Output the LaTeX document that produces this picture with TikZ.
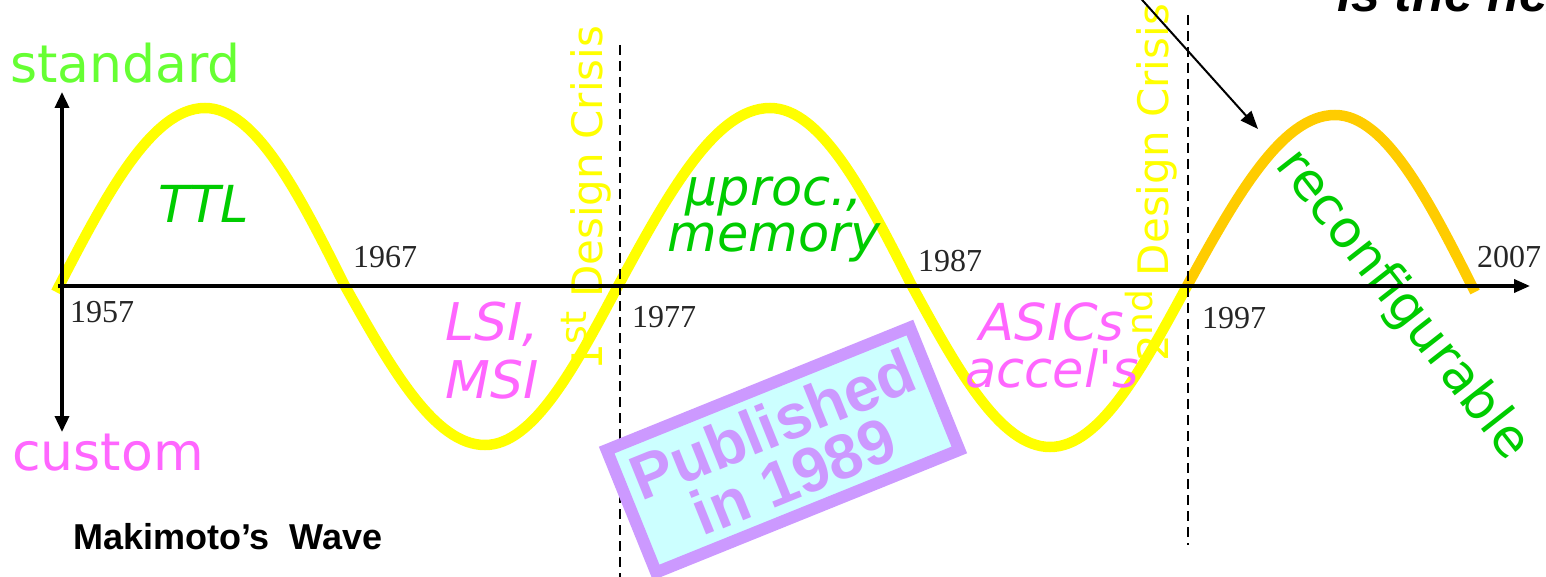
\documentclass[tikz,border=0pt]{standalone}
\usepackage{fontspec}
\setmainfont{Liberation Serif}
\newfontfamily\comicfont{DejaVu Sans}
\newfontfamily\arialfont{Liberation Sans}
\usetikzlibrary{arrows.meta, positioning}

\definecolor{waveyellow}{HTML}{FFFF00}
\definecolor{waveorange}{HTML}{FFCC00}
\definecolor{stdgreen}{HTML}{66FF33}
\definecolor{techgreen}{HTML}{00CC00}
\definecolor{techpink}{HTML}{FF66FF}
\definecolor{stamppurple}{HTML}{CC99FF}
\definecolor{stampcyan}{HTML}{CCFFFF}

\newcommand{\ordsup}[1]{\raisebox{0.36em}{\fontsize{36}{36}\selectfont #1}}

\begin{document}
\begin{tikzpicture}[
    x=1pt, y=-1pt,
    year/.style={font=\fontsize{32}{32}\selectfont, text=black!85, inner sep=0pt, anchor=base west},
    era/.style={font=\comicfont\itshape\fontsize{51}{46}\selectfont, inner sep=0pt, align=center},
    side/.style={font=\comicfont\fontsize{52}{52}\selectfont, inner sep=0pt, anchor=base west},
    crisis/.style={font=\comicfont\fontsize{42}{42}\selectfont, text=waveyellow, rotate=90, inner sep=0pt, anchor=base west},
    wave/.style={line width=10.5pt},
    axis/.style={line width=3.5pt, {Triangle[length=16pt, width=14pt]}-{Triangle[length=16pt, width=14pt]}},
    divider/.style={line width=2pt, dash pattern=on 10pt off 6pt},
    pointer/.style={line width=2pt, -{Triangle[length=18pt, width=14pt]}},
    stamp/.style={draw=stamppurple, fill=stampcyan, line width=12pt, minimum width=327pt, minimum height=132pt, inner sep=0pt, align=center, text=stamppurple, font=\arialfont\bfseries\fontsize{63}{56}\selectfont}
]
\useasboundingbox (0,0) rectangle (1546,577);
\clip (0,0) rectangle (1546,577);

% Points de l'axe
\coordinate (ytop) at (62,92);
\coordinate (ybot) at (62,432);
\coordinate (xstart) at (58,286);
\coordinate (xend) at (1530,286);
\coordinate (cut1) at (1187,286);

% Vague
\draw[wave, waveyellow] (56,292) sin (205,108) cos (345,286) sin (485,445) cos (618,286)
    sin (770,108) cos (912,286) sin (1050,447) cos (cut1);
\draw[wave, waveorange] (cut1) sin (1335,115) cos (1475,292);

% Etiquettes des périodes
\node[era, text=techgreen, anchor=base west] (ttl) at (158,223) {TTL};
\node[era, text=techgreen] (uproc) at (774,220) {µproc.,\\memory};
\node[era, text=techpink, font=\comicfont\itshape\fontsize{52}{58}\selectfont] (lsi) at (492,351) {LSI,\\MSI};
\node[era, text=techpink, font=\comicfont\itshape\fontsize{51}{47}\selectfont] (asic) at (1052,345) {ASICs\\accel's};
\node[side, text=techgreen, rotate=-52, anchor=center] (reconf) at (1402,305) {reconfigurable};

% Crises
\node[crisis] (crisis1) at (602,371) {1\ordsup{st} Design Crisis};
\node[crisis] (crisis2) at (1168,362) {2\ordsup{nd} Design Crisis};

% Axes
\draw[axis] (ytop) -- (ybot);
\draw[line width=3.5pt, -{Triangle[length=16pt, width=13pt]}] (xstart) -- (xend);
\node[side, text=stdgreen] (standard) at (10,83) {standard};
\node[side, text=techpink] (custom) at (12,470) {custom};

% Années
\node[year] (y1957) at (70,322) {1957};
\node[year] (y1967) at (353,268) {1967};
\node[year] (y1977) at (632,327) {1977};
\node[year] (y1987) at (918,272) {1987};
\node[year] (y1997) at (1202,328) {1997};
\node[year] (y2007) at (1477,267) {2007};

% Séparations
\coordinate (d1top) at (620,45);
\coordinate (d1bot) at (620,577);
\coordinate (d2top) at (1188,15);
\coordinate (d2bot) at (1188,545);
\draw[divider] (d1top) -- (d1bot);
\draw[divider] (d2top) -- (d2bot);

% Flèche du haut
\node[anchor=base west, inner sep=0pt, font=\arialfont\bfseries\itshape\fontsize{52}{52}\selectfont] (nextwave) at (1337,12) {is the next};
\coordinate (ptrstart) at (1135,-8);
\coordinate (ptrend) at (1258,129);
\draw[pointer] (ptrstart) -- (ptrend);

% Titre et tampon
\node[anchor=base west, inner sep=0pt, font=\arialfont\bfseries\fontsize{36}{36}\selectfont] (title) at (73,549) {Makimoto’s~~Wave};
\node[stamp, rotate=22] (stamp) at (783,450) {Published\\in 1989};
\end{tikzpicture}
\end{document}
